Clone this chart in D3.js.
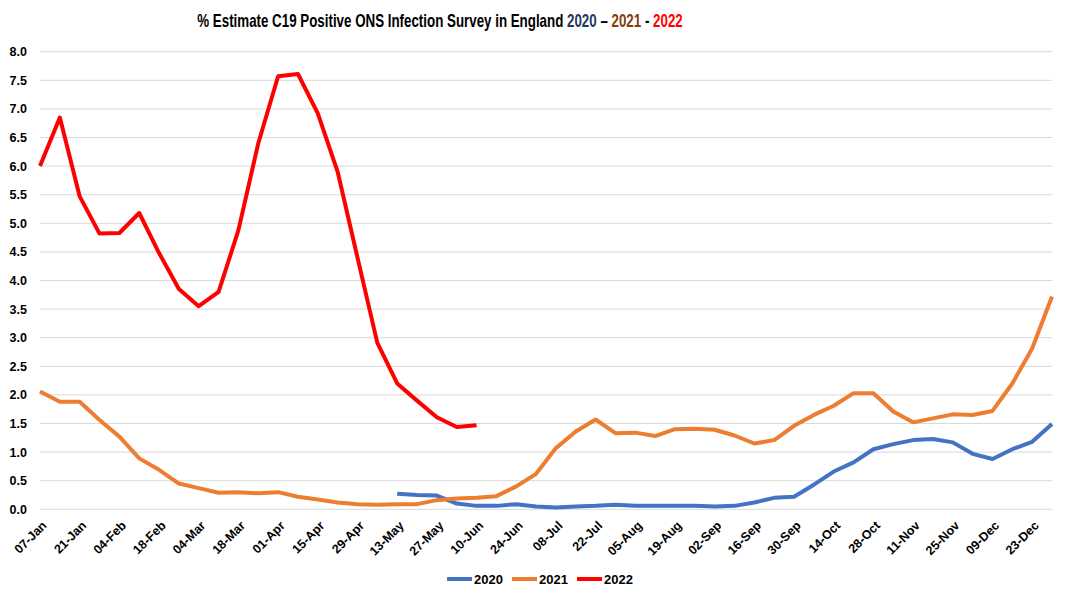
<!DOCTYPE html>
<html>
<head>
<meta charset="utf-8">
<script src="https://cdn.jsdelivr.net/npm/d3@7"></script>
<style>
  body { margin: 0; background: #fff; }
  svg { font-family: "Liberation Sans", Arial, sans-serif; }
</style>
</head>
<body>
<svg width="1076" height="600"></svg>
<script>
var width = 1076;
var height = 600;
var margin = {'top': 51.7, 'bottom': 90.7, 'left': 40, 'right': 24}

// weekly dates, week ending
var weeks = ['07-Jan','14-Jan','21-Jan','28-Jan','04-Feb','11-Feb','18-Feb','25-Feb',
  '04-Mar','11-Mar','18-Mar','25-Mar','01-Apr','08-Apr','15-Apr','22-Apr','29-Apr',
  '06-May','13-May','20-May','27-May','03-Jun','10-Jun','17-Jun','24-Jun','01-Jul',
  '08-Jul','15-Jul','22-Jul','29-Jul','05-Aug','12-Aug','19-Aug','26-Aug','02-Sep',
  '09-Sep','16-Sep','23-Sep','30-Sep','07-Oct','14-Oct','21-Oct','28-Oct','04-Nov',
  '11-Nov','18-Nov','25-Nov','02-Dec','09-Dec','16-Dec','23-Dec','30-Dec']

// null = no survey value that week
var y2020 = [null,null,null,null,null,null,null,null,null,null,null,null,null,null,
  null,null,null,null,0.27,0.25,0.24,0.10,0.06,0.06,0.09,0.05,0.03,0.05,0.06,0.08,
  0.06,0.06,0.06,0.06,0.05,0.06,0.12,0.20,0.22,0.43,0.66,0.82,1.05,1.14,1.21,1.23,
  1.17,0.97,0.88,1.05,1.18,1.49]
var y2021 = [2.06,1.88,1.88,1.56,1.27,0.89,0.69,0.45,0.37,0.29,0.30,0.28,0.30,0.22,
  0.17,0.12,0.09,0.08,0.09,0.09,0.16,0.19,0.20,0.23,0.40,0.62,1.07,1.36,1.57,1.33,
  1.34,1.28,1.40,1.41,1.39,1.29,1.15,1.21,1.46,1.65,1.81,2.03,2.03,1.71,1.52,1.59,
  1.66,1.65,1.72,2.20,2.81,3.72]
var y2022 = [6.00,6.85,5.47,4.82,4.83,5.18,4.48,3.85,3.55,3.80,4.88,6.40,7.57,7.61,
  6.92,5.90,4.40,2.91,2.20,1.90,1.61,1.44,1.47]

var seriesNames = ['2020','2021','2022']
var seriesColors = ['#4472C4','#ED7D31','#FF0000']
var yTicks = d3.range(0, 8.01, 0.5)

var x = d3.scalePoint()
    .domain(weeks)
    .range([margin.left, width - margin.right])

var y = d3.scaleLinear()
    .domain([0, 8])
    .range([height - margin.bottom, margin.top])

const svg = d3.select('svg')

// gridlines
svg.append('g')
    .selectAll('line')
    .data(yTicks)
    .join('line')
    .attr('x1', margin.left)
    .attr('x2', width - margin.right)
    .attr('y1', d => y(d))
    .attr('y2', d => y(d))
    .attr('stroke', '#d9d9d9')
    .attr('stroke-width', 1);

// y axis
const yAxis = d3.axisLeft(y).tickValues(yTicks).tickFormat(d3.format('.1f')).tickSize(0).tickPadding(13);
svg.append('g')
    .attr('transform', `translate(${margin.left},0)`)
    .call(yAxis)
    .call(g => g.select('.domain').remove())
    .selectAll('text')
    .attr('font-family', '"Liberation Sans", Arial, sans-serif')
    .attr('font-size', 12.5)
    .attr('font-weight', 'bold')
    .attr('fill', '#000');

// x axis, every other week labelled
const xAxis = d3.axisBottom(x).tickValues(weeks.filter((d, i) => i % 2 == 0)).tickSize(0);
svg.append('g')
    .attr('transform', `translate(0,${height - margin.bottom})`)
    .call(xAxis)
    .call(g => g.select('.domain').remove())
    .selectAll('text')
    .attr('font-family', '"Liberation Sans", Arial, sans-serif')
    .attr('font-size', 12.5)
    .attr('font-weight', 'bold')
    .attr('fill', '#000')
    .attr('text-anchor', 'end')
    .attr('y', 0)
    .attr('dy', 0)
    .attr('transform', 'translate(7,17) rotate(-45)');

// lines
const line = d3.line()
    .defined(d => d[1] != null)
    .x(d => x(d[0]))
    .y(d => y(d[1]));

[y2020, y2021, y2022].forEach((vals, i) => {
  svg.append('path')
      .datum(vals.map((v, j) => [weeks[j], v]))
      .attr('fill', 'none')
      .attr('stroke', seriesColors[i])
      .attr('stroke-width', 4)
      .attr('stroke-linejoin', 'round')
      .attr('d', line);
});

// title, squeezed sideways to the width of the original narrow font
const titleG = svg.append('g');
const title = titleG.append('text')
    .attr('text-anchor', 'middle')
    .attr('font-size', 18)
    .attr('font-weight', 'bold')
    .attr('fill', '#000');
title.append('tspan').text('% Estimate C19 Positive ONS Infection Survey in England ');
title.append('tspan').attr('fill', '#1F3864').text('2020');
title.append('tspan').text(' – ');
title.append('tspan').attr('fill', '#843C0C').text('2021');
title.append('tspan').text(' - ');
title.append('tspan').attr('fill', '#FF0000').text('2022');
const tw = title.node().getComputedTextLength();
titleG.attr('transform', `translate(440,27) scale(${Math.min(1, 486 / tw)},1)`);

// legend
const legend = svg.append('g').attr('transform', 'translate(447,579)');
const item = legend.selectAll('g')
    .data(seriesNames)
    .join('g')
    .attr('transform', (d, i) => `translate(${i * 65},0)`);
item.append('line')
    .attr('x1', 0).attr('x2', 25)
    .attr('stroke', (d, i) => seriesColors[i])
    .attr('stroke-width', 4);
item.append('text')
    .attr('x', 27)
    .attr('dy', '0.36em')
    .attr('font-size', 13)
    .attr('font-weight', 'bold')
    .text(d => d);
</script>
</body>
</html>
